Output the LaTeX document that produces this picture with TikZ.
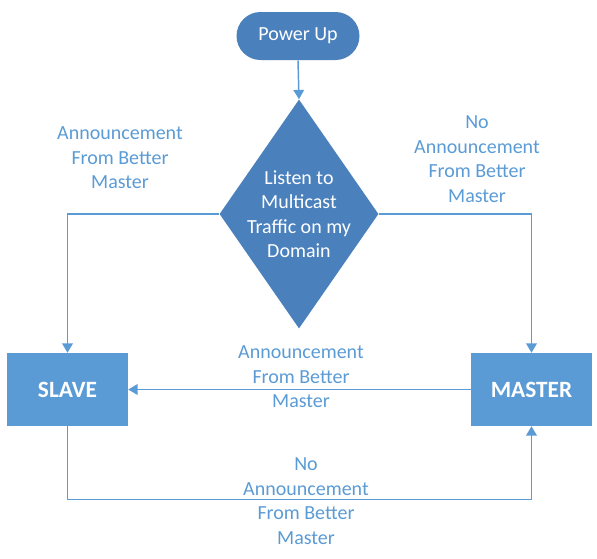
\documentclass[tikz,border=0pt]{standalone}
\usepackage{fontspec}
\setmainfont{Carlito}
\usetikzlibrary{shapes.geometric,arrows.meta}

\definecolor{darkblue}{HTML}{4A81BD}
\definecolor{lightblue}{HTML}{5B9BD5}

\tikzset{
  flow/.style={draw=lightblue, line width=1.1pt, -{Triangle[width=8pt,length=7pt]}},
  plain/.style={draw=lightblue, line width=1.1pt},
  lbl/.style={text=lightblue, align=center, font=\fontsize{15}{18.4}\selectfont, inner sep=0pt},
  state/.style={fill=lightblue, text=white, font=\fontsize{17.5}{20}\selectfont\bfseries,
    minimum width=90.75pt, minimum height=54.75pt, inner sep=0pt},
}

\begin{document}
\begin{tikzpicture}[x=0.75pt, y=-0.75pt]

          \useasboundingbox (0,0) rectangle (597,558);

          % start and decision
          \node[fill=darkblue, text=white, rounded corners=18pt, minimum width=92.25pt,
            minimum height=36pt, inner sep=0pt, font=\fontsize{15}{18.4}\selectfont]
            (pwr) at (298,36) {Power Up};

          \node[diamond, fill=darkblue, text=white, align=center, aspect=0.694,
            minimum width=119.25pt, minimum height=171.75pt, inner sep=-1.5pt,
            font=\fontsize{15}{18.4}\selectfont]
            (listen) at (299,214) {Listen to\\Multicast\\Traffic on my\\Domain};

          % the two states
          \node[state] (slave) at (67.5,389.5) {SLAVE};
          \node[state] (master) at (531.5,389.5) {MASTER};

          \draw[flow] (pwr.south) -- (listen.north);
          \draw[flow] (listen.west) -| (slave.north);
          \draw[flow] (listen.east) -| (master.north);
          \draw[flow] (master.west) -- (slave.east);
          \draw[flow] (slave.south) -- ++(0,73) -| (master.south);

          % labels
          \node[lbl] (betterL) at (120,158) {Announcement\\From Better\\Master};
          \node[lbl] (noneR) at (477,159) {No\\Announcement\\From Better\\Master};
          \node[lbl] (betterM) at (301,377) {Announcement\\From Better\\Master};
          \node[lbl] (noneB) at (306,501) {No\\Announcement\\From Better\\Master};

\end{tikzpicture}
\end{document}
